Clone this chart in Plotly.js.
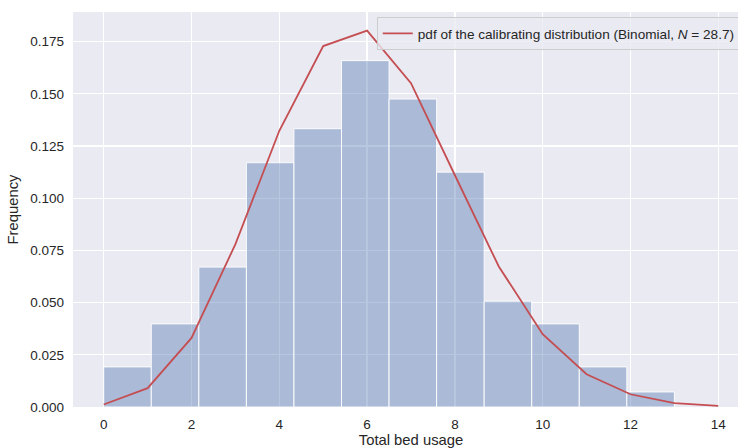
<!DOCTYPE html>
<html>
<head>
<meta charset="utf-8">
<script src="https://cdn.plot.ly/plotly-3.0.1.min.js"></script>
<style>
html,body{margin:0;padding:0;overflow:hidden;background:#fff;}
#chart{width:752px;height:448px;}
</style>
</head>
<body>
<div id="chart"></div>
<script>
// Histogram (density) of total bed usage: 12 bins spanning 0..13
const binMin = 0;
const binMax = 13;
const binDensity = [0.0192, 0.0398, 0.0670, 0.1170, 0.1333, 0.1659, 0.1475, 0.1125, 0.0507, 0.0398, 0.0192, 0.0072];

// Calibrating distribution pmf (Binomial, N = 28.7)
const pmfX = [0, 1, 2, 3, 4, 5, 6, 7, 8, 9, 10, 11, 12, 13, 14];
const pmfY = [0.0012, 0.0090, 0.0331, 0.0780, 0.1323, 0.1729, 0.1803, 0.1551, 0.1110, 0.0673, 0.0349, 0.0157, 0.0061, 0.0019, 0.0005];

const xTicks = [0, 2, 4, 6, 8, 10, 12, 14];
const yTicks = [0, 0.025, 0.05, 0.075, 0.1, 0.125, 0.15, 0.175];

const binWidth = (binMax - binMin) / binDensity.length;
const binCenters = binDensity.map((_, i) => binMin + binWidth * (i + 0.5));

const textColor = '#262626';
const font = 'Liberation Sans, Arial, sans-serif';

const traces = [
  {
    type: 'bar',
    x: binCenters,
    y: binDensity,
    width: binWidth,
    marker: {color: 'rgba(76,114,176,0.4)', line: {color: 'rgba(255,255,255,0.9)', width: 1}},
    showlegend: false,
    hoverinfo: 'skip'
  },
  {
    type: 'scatter',
    mode: 'lines',
    x: pmfX,
    y: pmfY,
    line: {color: '#C44E52', width: 1.8},
    name: 'pdf of the calibrating distribution (Binomial, <i>N</i> = 28.7)'
  }
];

const layout = {
  width: 752,
  height: 448,
  margin: {l: 73, r: 2.5, t: 12, b: 41.3},
  paper_bgcolor: '#ffffff',
  plot_bgcolor: '#EAEAF2',
  font: {family: font, color: textColor, size: 13.5},
  bargap: 0,
  xaxis: {
    range: [-0.7, 14.7],
    tickvals: xTicks,
    ticktext: xTicks.map(String),
    showgrid: true,
    gridcolor: '#ffffff',
    gridwidth: 1.3,
    zeroline: false,
    showline: false,
    ticks: '',
    ticklabelstandoff: 7,
    tickfont: {size: 13.5, color: textColor},
    title: {text: 'Total bed usage', font: {size: 14.8, color: textColor}, standoff: 4}
  },
  yaxis: {
    range: [0, 0.1892],
    tickvals: yTicks,
    ticktext: yTicks.map(v => v.toFixed(3)),
    showgrid: true,
    gridcolor: '#ffffff',
    gridwidth: 1.3,
    zeroline: false,
    showline: false,
    ticks: '',
    ticklabelstandoff: 8,
    tickfont: {size: 13.5, color: textColor},
    title: {text: 'Frequency', font: {size: 14.8, color: textColor}, standoff: 8}
  },
  legend: {
    x: (377 - 73) / 676.5,
    y: 1 - (17 - 12) / 394.7,
    xanchor: 'left',
    yanchor: 'top',
    bgcolor: 'rgba(234,234,242,0.8)',
    bordercolor: '#cccccc',
    borderwidth: 1,
    font: {size: 13.6, color: textColor},
    itemwidth: 30
  }
};

Plotly.newPlot('chart', traces, layout, {displayModeBar: false, staticPlot: true});
</script>
</body>
</html>
